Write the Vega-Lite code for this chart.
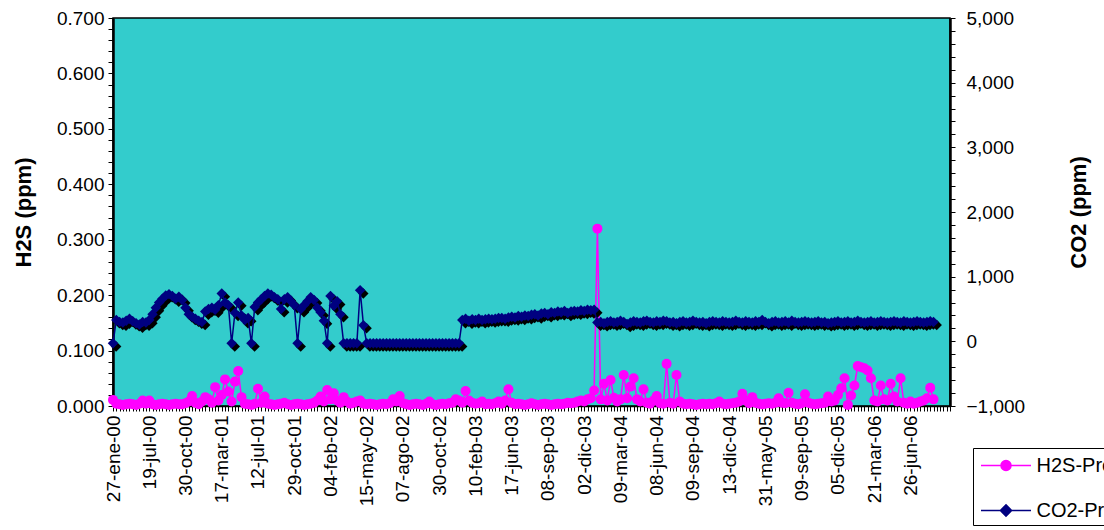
{
  "$schema": "https://vega.github.io/schema/vega-lite/v6.json",
  "width": 837,
  "height": 388,
  "autosize": {"type": "none"},
  "padding": {"left": 113, "top": 18, "right": 154, "bottom": 124},
  "background": "white",
  "view": {"fill": "#33CCCC", "stroke": "#000000", "strokeWidth": 1.5},
  "config": {
    "font": "Liberation Sans",
    "view": {"fill": "#33CCCC", "stroke": "#000000", "strokeWidth": 1.5},
    "axis": {"grid": false, "domainColor": "#000000", "tickColor": "#000000", "labelColor": "#000000", "titleColor": "#000000", "labelFont": "Liberation Sans", "titleFont": "Liberation Sans"}
  },
  "datasets": {
    "serie": [
      {"i":0,"h2s":0.011,"co2":-30},{"i":1,"h2s":0.004,"co2":330},{"i":2,"h2s":0.003,"co2":300},{"i":3,"h2s":0.002,"co2":290},{"i":4,"h2s":0.003,"co2":320},
      {"i":5,"h2s":0.004,"co2":350},{"i":6,"h2s":0.003,"co2":310},{"i":7,"h2s":0.002,"co2":280},{"i":8,"h2s":0.004,"co2":260},{"i":9,"h2s":0.010,"co2":300},
      {"i":10,"h2s":0.004,"co2":290},{"i":11,"h2s":0.010,"co2":330},{"i":12,"h2s":0.003,"co2":420},{"i":13,"h2s":0.002,"co2":520},{"i":14,"h2s":0.003,"co2":600},
      {"i":15,"h2s":0.004,"co2":660},{"i":16,"h2s":0.003,"co2":710},{"i":17,"h2s":0.002,"co2":730},{"i":18,"h2s":0.003,"co2":700},{"i":19,"h2s":0.004,"co2":660},
      {"i":20,"h2s":0.003,"co2":690},{"i":21,"h2s":0.003,"co2":640},{"i":22,"h2s":0.005,"co2":520},{"i":23,"h2s":0.008,"co2":420},{"i":24,"h2s":0.018,"co2":380},
      {"i":25,"h2s":0.006,"co2":350},{"i":26,"h2s":0.003,"co2":320},{"i":27,"h2s":0.008,"co2":300},{"i":28,"h2s":0.016,"co2":460},{"i":29,"h2s":0.012,"co2":500},
      {"i":30,"h2s":0.006,"co2":520},{"i":31,"h2s":0.034,"co2":490},{"i":32,"h2s":0.010,"co2":560},{"i":33,"h2s":0.020,"co2":740},{"i":34,"h2s":0.048,"co2":600},
      {"i":35,"h2s":0.026,"co2":560},{"i":36,"h2s":0.008,"co2":-30},{"i":37,"h2s":0.044,"co2":440},{"i":38,"h2s":0.063,"co2":600},{"i":39,"h2s":0.016,"co2":400},
      {"i":40,"h2s":0.004,"co2":330},{"i":41,"h2s":0.003,"co2":360},{"i":42,"h2s":0.002,"co2":-30},{"i":43,"h2s":0.004,"co2":530},{"i":44,"h2s":0.031,"co2":600},
      {"i":45,"h2s":0.006,"co2":650},{"i":46,"h2s":0.017,"co2":700},{"i":47,"h2s":0.004,"co2":740},{"i":48,"h2s":0.003,"co2":720},{"i":49,"h2s":0.002,"co2":680},
      {"i":50,"h2s":0.003,"co2":650},{"i":51,"h2s":0.004,"co2":500},{"i":52,"h2s":0.006,"co2":650},{"i":53,"h2s":0.003,"co2":680},{"i":54,"h2s":0.002,"co2":620},
      {"i":55,"h2s":0.003,"co2":560},{"i":56,"h2s":0.004,"co2":-30},{"i":57,"h2s":0.003,"co2":500},{"i":58,"h2s":0.002,"co2":560},{"i":59,"h2s":0.003,"co2":620},
      {"i":60,"h2s":0.004,"co2":680},{"i":61,"h2s":0.006,"co2":640},{"i":62,"h2s":0.010,"co2":520},{"i":63,"h2s":0.017,"co2":450},{"i":64,"h2s":0.008,"co2":320},
      {"i":65,"h2s":0.029,"co2":-30},{"i":66,"h2s":0.012,"co2":700},{"i":67,"h2s":0.023,"co2":550},{"i":68,"h2s":0.010,"co2":620},{"i":69,"h2s":0.006,"co2":420},
      {"i":70,"h2s":0.016,"co2":-30},{"i":71,"h2s":0.008,"co2":-30},{"i":72,"h2s":0.004,"co2":-30},{"i":73,"h2s":0.006,"co2":-30},{"i":74,"h2s":0.008,"co2":-30},
      {"i":75,"h2s":0.010,"co2":790},{"i":76,"h2s":0.004,"co2":250},{"i":77,"h2s":0.003,"co2":-30},{"i":78,"h2s":0.004,"co2":-30},{"i":79,"h2s":0.003,"co2":-30},
      {"i":80,"h2s":0.002,"co2":-30},{"i":81,"h2s":0.003,"co2":-30},{"i":82,"h2s":0.004,"co2":-30},{"i":83,"h2s":0.003,"co2":-30},{"i":84,"h2s":0.005,"co2":-30},
      {"i":85,"h2s":0.012,"co2":-30},{"i":86,"h2s":0.008,"co2":-30},{"i":87,"h2s":0.018,"co2":-30},{"i":88,"h2s":0.005,"co2":-30},{"i":89,"h2s":0.003,"co2":-30},
      {"i":90,"h2s":0.002,"co2":-30},{"i":91,"h2s":0.003,"co2":-30},{"i":92,"h2s":0.004,"co2":-30},{"i":93,"h2s":0.003,"co2":-30},{"i":94,"h2s":0.002,"co2":-30},
      {"i":95,"h2s":0.004,"co2":-30},{"i":96,"h2s":0.008,"co2":-30},{"i":97,"h2s":0.003,"co2":-30},{"i":98,"h2s":0.002,"co2":-30},{"i":99,"h2s":0.003,"co2":-30},
      {"i":100,"h2s":0.004,"co2":-30},{"i":101,"h2s":0.003,"co2":-30},{"i":102,"h2s":0.005,"co2":-30},{"i":103,"h2s":0.006,"co2":-30},{"i":104,"h2s":0.012,"co2":-30},
      {"i":105,"h2s":0.010,"co2":-30},{"i":106,"h2s":0.006,"co2":330},{"i":107,"h2s":0.027,"co2":350},{"i":108,"h2s":0.010,"co2":320},{"i":109,"h2s":0.006,"co2":340},
      {"i":110,"h2s":0.004,"co2":330},{"i":111,"h2s":0.005,"co2":350},{"i":112,"h2s":0.008,"co2":330},{"i":113,"h2s":0.003,"co2":340},{"i":114,"h2s":0.004,"co2":350},
      {"i":115,"h2s":0.003,"co2":340},{"i":116,"h2s":0.005,"co2":350},{"i":117,"h2s":0.008,"co2":360},{"i":118,"h2s":0.004,"co2":360},{"i":119,"h2s":0.010,"co2":350},
      {"i":120,"h2s":0.030,"co2":370},{"i":121,"h2s":0.006,"co2":380},{"i":122,"h2s":0.003,"co2":370},{"i":123,"h2s":0.004,"co2":390},{"i":124,"h2s":0.003,"co2":380},
      {"i":125,"h2s":0.002,"co2":400},{"i":126,"h2s":0.003,"co2":390},{"i":127,"h2s":0.005,"co2":410},{"i":128,"h2s":0.003,"co2":420},{"i":129,"h2s":0.002,"co2":400},
      {"i":130,"h2s":0.003,"co2":430},{"i":131,"h2s":0.004,"co2":440},{"i":132,"h2s":0.003,"co2":420},{"i":133,"h2s":0.002,"co2":450},{"i":134,"h2s":0.003,"co2":440},
      {"i":135,"h2s":0.004,"co2":460},{"i":136,"h2s":0.003,"co2":450},{"i":137,"h2s":0.004,"co2":470},{"i":138,"h2s":0.006,"co2":440},{"i":139,"h2s":0.005,"co2":460},
      {"i":140,"h2s":0.006,"co2":470},{"i":141,"h2s":0.008,"co2":460},{"i":142,"h2s":0.010,"co2":480},{"i":143,"h2s":0.008,"co2":470},{"i":144,"h2s":0.012,"co2":490},
      {"i":145,"h2s":0.014,"co2":480},{"i":146,"h2s":0.028,"co2":490},{"i":147,"h2s":0.320,"co2":290},{"i":148,"h2s":0.012,"co2":300},{"i":149,"h2s":0.040,"co2":280},
      {"i":150,"h2s":0.010,"co2":300},{"i":151,"h2s":0.047,"co2":310},{"i":152,"h2s":0.015,"co2":290},{"i":153,"h2s":0.008,"co2":300},{"i":154,"h2s":0.012,"co2":320},
      {"i":155,"h2s":0.056,"co2":300},{"i":156,"h2s":0.014,"co2":270},{"i":157,"h2s":0.035,"co2":290},{"i":158,"h2s":0.050,"co2":310},{"i":159,"h2s":0.012,"co2":300},
      {"i":160,"h2s":0.008,"co2":290},{"i":161,"h2s":0.030,"co2":310},{"i":162,"h2s":0.006,"co2":320},{"i":163,"h2s":0.004,"co2":300},{"i":164,"h2s":0.010,"co2":290},
      {"i":165,"h2s":0.018,"co2":310},{"i":166,"h2s":0.005,"co2":300},{"i":167,"h2s":0.004,"co2":320},{"i":168,"h2s":0.076,"co2":310},{"i":169,"h2s":0.006,"co2":290},
      {"i":170,"h2s":0.004,"co2":300},{"i":171,"h2s":0.056,"co2":280},{"i":172,"h2s":0.008,"co2":300},{"i":173,"h2s":0.004,"co2":310},{"i":174,"h2s":0.003,"co2":290},
      {"i":175,"h2s":0.004,"co2":300},{"i":176,"h2s":0.003,"co2":320},{"i":177,"h2s":0.002,"co2":300},{"i":178,"h2s":0.003,"co2":290},{"i":179,"h2s":0.004,"co2":300},
      {"i":180,"h2s":0.003,"co2":280},{"i":181,"h2s":0.004,"co2":300},{"i":182,"h2s":0.003,"co2":310},{"i":183,"h2s":0.005,"co2":300},{"i":184,"h2s":0.008,"co2":290},
      {"i":185,"h2s":0.004,"co2":310},{"i":186,"h2s":0.003,"co2":300},{"i":187,"h2s":0.004,"co2":290},{"i":188,"h2s":0.005,"co2":300},{"i":189,"h2s":0.006,"co2":320},
      {"i":190,"h2s":0.008,"co2":300},{"i":191,"h2s":0.022,"co2":290},{"i":192,"h2s":0.010,"co2":310},{"i":193,"h2s":0.005,"co2":300},{"i":194,"h2s":0.016,"co2":290},
      {"i":195,"h2s":0.006,"co2":310},{"i":196,"h2s":0.004,"co2":300},{"i":197,"h2s":0.003,"co2":330},{"i":198,"h2s":0.004,"co2":300},{"i":199,"h2s":0.005,"co2":280},
      {"i":200,"h2s":0.004,"co2":300},{"i":201,"h2s":0.006,"co2":310},{"i":202,"h2s":0.014,"co2":290},{"i":203,"h2s":0.006,"co2":300},{"i":204,"h2s":0.005,"co2":310},
      {"i":205,"h2s":0.024,"co2":290},{"i":206,"h2s":0.006,"co2":320},{"i":207,"h2s":0.004,"co2":300},{"i":208,"h2s":0.003,"co2":290},{"i":209,"h2s":0.005,"co2":300},
      {"i":210,"h2s":0.021,"co2":310},{"i":211,"h2s":0.006,"co2":300},{"i":212,"h2s":0.004,"co2":290},{"i":213,"h2s":0.003,"co2":300},{"i":214,"h2s":0.004,"co2":310},
      {"i":215,"h2s":0.005,"co2":290},{"i":216,"h2s":0.006,"co2":300},{"i":217,"h2s":0.017,"co2":280},{"i":218,"h2s":0.008,"co2":290},{"i":219,"h2s":0.010,"co2":300},
      {"i":220,"h2s":0.020,"co2":310},{"i":221,"h2s":0.032,"co2":290},{"i":222,"h2s":0.050,"co2":300},{"i":223,"h2s":0.002,"co2":310},{"i":224,"h2s":0.019,"co2":290},
      {"i":225,"h2s":0.037,"co2":300},{"i":226,"h2s":0.072,"co2":320},{"i":227,"h2s":0.070,"co2":300},{"i":228,"h2s":0.068,"co2":290},{"i":229,"h2s":0.064,"co2":300},
      {"i":230,"h2s":0.050,"co2":310},{"i":231,"h2s":0.010,"co2":290},{"i":232,"h2s":0.008,"co2":300},{"i":233,"h2s":0.037,"co2":310},{"i":234,"h2s":0.012,"co2":300},
      {"i":235,"h2s":0.010,"co2":290},{"i":236,"h2s":0.040,"co2":300},{"i":237,"h2s":0.017,"co2":310},{"i":238,"h2s":0.008,"co2":300},{"i":239,"h2s":0.050,"co2":290},
      {"i":240,"h2s":0.006,"co2":310},{"i":241,"h2s":0.004,"co2":300},{"i":242,"h2s":0.008,"co2":290},{"i":243,"h2s":0.004,"co2":300},{"i":244,"h2s":0.006,"co2":310},
      {"i":245,"h2s":0.008,"co2":300},{"i":246,"h2s":0.010,"co2":290},{"i":247,"h2s":0.014,"co2":300},{"i":248,"h2s":0.033,"co2":310},{"i":249,"h2s":0.012,"co2":300}
    ],
    "leyenda": [{"serie": "H2S-Promedio"}, {"serie": "CO2-Promedio"}]
  },
  "layer": [
    {
      "data": {"name": "serie"},
      "encoding": {
        "x": {
          "field": "i", "type": "quantitative",
          "scale": {"domain": [0, 254], "nice": false, "zero": false},
          "axis": {
            "title": null, "tickCount": 254, "tickSize": 5, "domainWidth": 1.5,
            "labelAngle": 270, "labelAlign": "right", "labelBaseline": "middle",
            "labelFontSize": 19, "labelPadding": 4, "labelOverlap": false, "labelFlush": false, "labelBound": false,
            "labelExpr": "(datum.value % 11 == 0 && datum.value <= 242) ? ['27-ene-00','19-jul-00','30-oct-00','17-mar-01','12-jul-01','29-oct-01','04-feb-02','15-may-02','07-ago-02','30-oct-02','10-feb-03','17-jun-03','08-sep-03','02-dic-03','09-mar-04','08-jun-04','09-sep-04','13-dic-04','31-may-05','09-sep-05','05-dic-05','21-mar-06','26-jun-06'][datum.value / 11] : ''"
          }
        },
        "y": {
          "field": "h2s", "type": "quantitative",
          "scale": {"domain": [0, 0.7], "nice": false},
          "axis": {
            "orient": "left", "title": "H2S (ppm)", "titleFontSize": 22, "titleFontWeight": "bold",
            "titleAngle": 270, "titleX": -90, "titleY": 194, "titleBaseline": "middle", "titleAlign": "center",
            "tickCount": 35, "tickSize": 5, "domainWidth": 2.5, "labelFontSize": 19, "labelPadding": 4,
            "labelOverlap": false, "labelFlush": false, "labelBound": false,
            "labelExpr": "abs(datum.value * 10 - round(datum.value * 10)) < 0.000001 ? format(datum.value, '.3f') : ''"
          }
        }
      },
      "layer": [
        {"mark": {"type": "line", "color": "#FF00FF", "strokeWidth": 1.5}},
        {"mark": {"type": "point", "shape": "circle", "filled": true, "opacity": 1, "color": "#FF00FF", "size": 100}}
      ]
    },
    {
      "data": {"name": "serie"},
      "encoding": {
        "x": {"field": "i", "type": "quantitative"},
        "y": {
          "field": "co2", "type": "quantitative",
          "scale": {"domain": [-1000, 5000], "nice": false, "zero": false},
          "axis": {
            "orient": "right", "title": "CO2 (ppm)", "titleFontSize": 22, "titleFontWeight": "bold",
            "titleAngle": 270, "titleX": 128, "titleY": 194, "titleBaseline": "middle", "titleAlign": "center",
            "tickCount": 30, "tickSize": 5, "domainWidth": 2.5, "labelFontSize": 19, "labelPadding": 11,
            "labelOverlap": false, "labelFlush": false, "labelBound": false,
            "labelExpr": "datum.value % 1000 == 0 ? format(datum.value, ',') : ''"
          }
        }
      },
      "layer": [
        {"mark": {"type": "point", "shape": "M-0.4,0.6L0.6,-0.4L1.6,0.6L0.6,1.6Z", "filled": true, "opacity": 1, "color": "#000000", "size": 110}},
        {"mark": {"type": "line", "color": "#000080", "strokeWidth": 1.5}},
        {"mark": {"type": "point", "shape": "diamond", "filled": true, "opacity": 1, "color": "#000080", "size": 110}}
      ]
    },
    {
      "data": {"name": "leyenda"},
      "mark": {"type": "point", "filled": true, "opacity": 0},
      "encoding": {
        "fill": {
          "field": "serie", "type": "nominal",
          "scale": {"domain": ["H2S-Promedio", "CO2-Promedio"], "range": ["#FF00FF", "#000080"]},
          "legend": {
            "orient": "none", "legendX": 860, "legendY": 430, "title": null,
            "labelFontSize": 20, "labelFont": "Liberation Sans", "labelColor": "#000000",
            "symbolSize": 625, "symbolStrokeWidth": 1.5, "symbolOffset": 15.5, "symbolOpacity": 1,
            "labelOffset": 17, "padding": 4, "rowPadding": 21,
            "strokeColor": "#000000", "fillColor": "#FFFFFF",
            "encode": {"symbols": {"update": {"fill": {"scale": "fill", "field": "value"}, "fillOpacity": {"value": 1}, "opacity": {"value": 1}}}}
          }
        },
        "stroke": {
          "field": "serie", "type": "nominal",
          "scale": {"domain": ["H2S-Promedio", "CO2-Promedio"], "range": ["#FF00FF", "#000080"]}
        },
        "shape": {
          "field": "serie", "type": "nominal",
          "scale": {"domain": ["H2S-Promedio", "CO2-Promedio"], "range": ["M-2,0L2,0M-0.4,0A0.4,0.4,0,1,0,0.4,0A0.4,0.4,0,1,0,-0.4,0Z", "M-2,0L2,0M0,-0.45L0.45,0L0,0.45L-0.45,0Z"]}
        }
      }
    }
  ],
  "resolve": {"scale": {"y": "independent"}}
}
